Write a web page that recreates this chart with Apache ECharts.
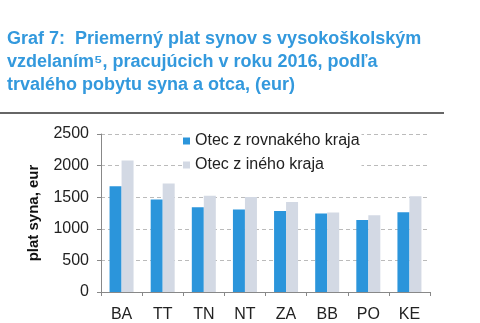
<!DOCTYPE html>
<html><head><meta charset="utf-8">
<script src="https://cdn.jsdelivr.net/npm/echarts@6/dist/echarts.min.js"></script>
<style>html,body{margin:0;padding:0;background:#fff}#c{width:480px;height:323px}</style>
</head><body><div id="c"></div>
<script>
var categories = ['BA','TT','TN','NT','ZA','BB','PO','KE'];
var sameRegion = [1675, 1462, 1342, 1305, 1281, 1242, 1141, 1263];
var otherRegion = [2080, 1716, 1522, 1502, 1425, 1257, 1216, 1515];
var seriesNames = ['Otec z rovnakého kraja', 'Otec z iného kraja'];
var yTicks = [0, 500, 1000, 1500, 2000, 2500];
var titleLines = ['Graf 7:  Priemerný plat synov s vysokoškolským', 'vzdelaním⁵, pracujúcich v roku 2016, podľa', 'trvalého pobytu syna a otca, (eur)'];
var yName = 'plat syna, eur';

var chart = echarts.init(document.getElementById('c'), null, {renderer:'canvas'});
var FONT = 'Liberation Sans, Arial, sans-serif';
chart.setOption({
  animation: false,
  textStyle: {fontFamily: FONT},
  title: {
    text: titleLines.join('\n'),
    left: 7, top: 28, padding: 0,
    textStyle: {color: '#3399DD', fontSize: 18, fontWeight: 'bold', lineHeight: 23, fontFamily: FONT}
  },
  graphic: [{
    type: 'line', shape: {x1: 0, y1: 113, x2: 444, y2: 113},
    style: {stroke: '#333', lineWidth: 1.5}
  }],
  legend: {
    orient: 'vertical', left: 183, top: 133, padding: [0, 2, 0, 0],
    itemWidth: 7, itemHeight: 7, itemGap: 8,
    backgroundColor: '#fff',
    icon: 'rect',
    textStyle: {fontSize: 16, color: '#222', lineHeight: 16, fontFamily: FONT},
    data: seriesNames
  },
  grid: {left: 101, right: 50, top: 134, bottom: 29, containLabel: false},
  xAxis: {
    type: 'category', data: categories,
    axisLine: {lineStyle: {color: '#888', width: 1}},
    axisTick: {show: true, length: 4, lineStyle: {color: '#888'}},
    axisLabel: {fontSize: 16, color: '#222', margin: 15}
  },
  yAxis: {
    type: 'value', min: 0, max: yTicks[yTicks.length-1], interval: yTicks[1]-yTicks[0],
    name: yName, nameLocation: 'middle', nameRotate: 90, nameGap: 60,
    nameTextStyle: {fontSize: 15, fontWeight: 'bold', color: '#111'},
    axisLine: {show: true, lineStyle: {color: '#888', width: 1}},
    axisTick: {show: true, length: 4, lineStyle: {color: '#888'}},
    axisLabel: {fontSize: 16, color: '#222', margin: 12, formatter: function(v){ return String(v); }},
    splitLine: {lineStyle: {color: '#bbb', type: [4, 3], width: 1}}
  },
  series: [
    {name: seriesNames[0], type: 'bar', data: sameRegion, barWidth: 12, barGap: '0%', itemStyle: {color: '#2B95DB'}},
    {name: seriesNames[1], type: 'bar', data: otherRegion, barWidth: 12, barGap: '0%', itemStyle: {color: '#D3D9E4'}}
  ]
});
</script></body></html>
